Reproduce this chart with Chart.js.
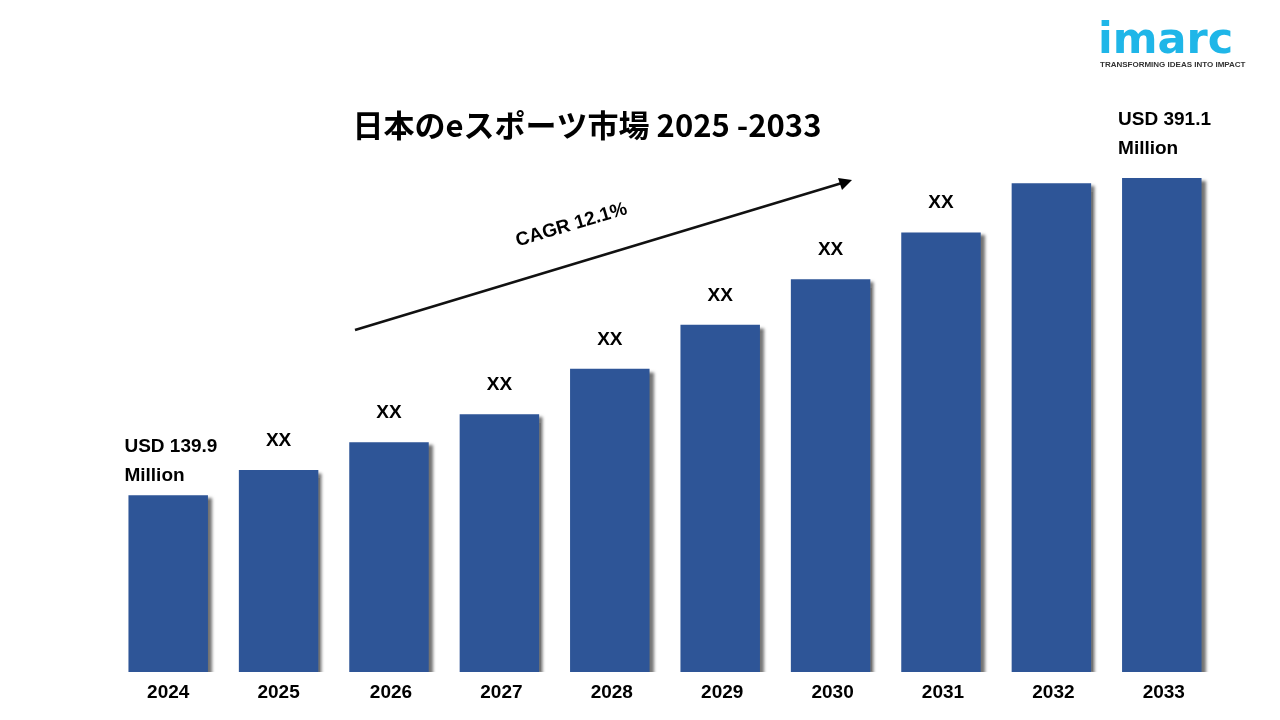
<!DOCTYPE html>
<html><head><meta charset="utf-8">
<script src="https://cdn.jsdelivr.net/npm/chart.js@4/dist/chart.umd.min.js"></script>
<style>html,body{margin:0;background:#fff;}#w{position:relative;width:1280px;height:720px;}
.t{position:absolute;font-family:"Liberation Sans",Arial,sans-serif;}
</style></head><body><div id="w"><canvas id="c" width="1280" height="720"></canvas>
<div class="t" style="left:1098px;top:16px;font-size:43px;color:#1fb6e8;font-weight:bold;line-height:44px;font-family:'DejaVu Sans'">imarc</div>
<div class="t" style="left:1100px;top:60px;font-size:8px;font-weight:bold;color:#333;">TRANSFORMING IDEAS INTO IMPACT</div>
</div>
<script>
const years=["2024","2025","2026","2027","2028","2029","2030","2031","2032","2033"];
const values=[139.9,160,182,204,240,275,311,348,387,391.1];
const topLabels=["USD 139.9\nMillion","XX","XX","XX","XX","XX","XX","XX","","USD 391.1\nMillion"];
const title="日本のeスポーツ市場 2025 -2033";
const cagr="CAGR 12.1%";
const deco={id:'deco',afterDatasetsDraw(ch){
 const c=ch.ctx,m=ch.getDatasetMeta(0);
 c.save();c.fillStyle='#000';c.font='bold 19px "Liberation Sans",Arial';
 m.data.forEach((b,i)=>{
  const lines=topLabels[i].split('\n');
  if(lines.length>1){c.textAlign='left';const off=i===0?-43:-53;lines.forEach((l,k)=>c.fillText(l,b.x-b.width/2-4,b.y+off+k*29));}
  else if(lines[0]){c.textAlign='center';c.fillText(lines[0],b.x,b.y-24);}
  c.textAlign='center';c.fillText(years[i],b.x+(i<2?0:2),ch.chartArea.bottom+26);
 });
 c.font='bold 31px "Noto Sans CJK JP","Liberation Sans"';c.textAlign='center';
 c.fillText(title,587,137);
 c.strokeStyle='#111';c.lineWidth=2.5;c.beginPath();c.moveTo(355,330);c.lineTo(842,183);c.stroke();
 c.beginPath();c.moveTo(852,180);c.lineTo(838,178);c.lineTo(842,190);c.closePath();c.fill();
 c.translate(573,230);c.rotate(-0.29);c.font='bold 19px "Liberation Sans",Arial';c.fillText(cagr,0,0);
 c.restore();}};
new Chart(document.getElementById('c'),{type:'bar',
 data:{labels:years,datasets:[{data:values,backgroundColor:'#2e5597',borderWidth:0,barPercentage:0.72,categoryPercentage:1}]},
 options:{responsive:false,animation:false,layout:{padding:{left:113,right:63,top:115,bottom:48}},
 plugins:{legend:{display:false},tooltip:{enabled:false}},
 scales:{x:{display:false},y:{display:false,min:0,max:441}}},
 plugins:[{id:'sh',beforeDatasetsDraw(ch){const c=ch.ctx;c.save();c.shadowColor='rgba(0,0,0,0.55)';c.shadowOffsetX=4;c.shadowOffsetY=3;c.shadowBlur=3;},afterDatasetsDraw(ch){ch.ctx.restore();}},deco]});
</script></body></html>
